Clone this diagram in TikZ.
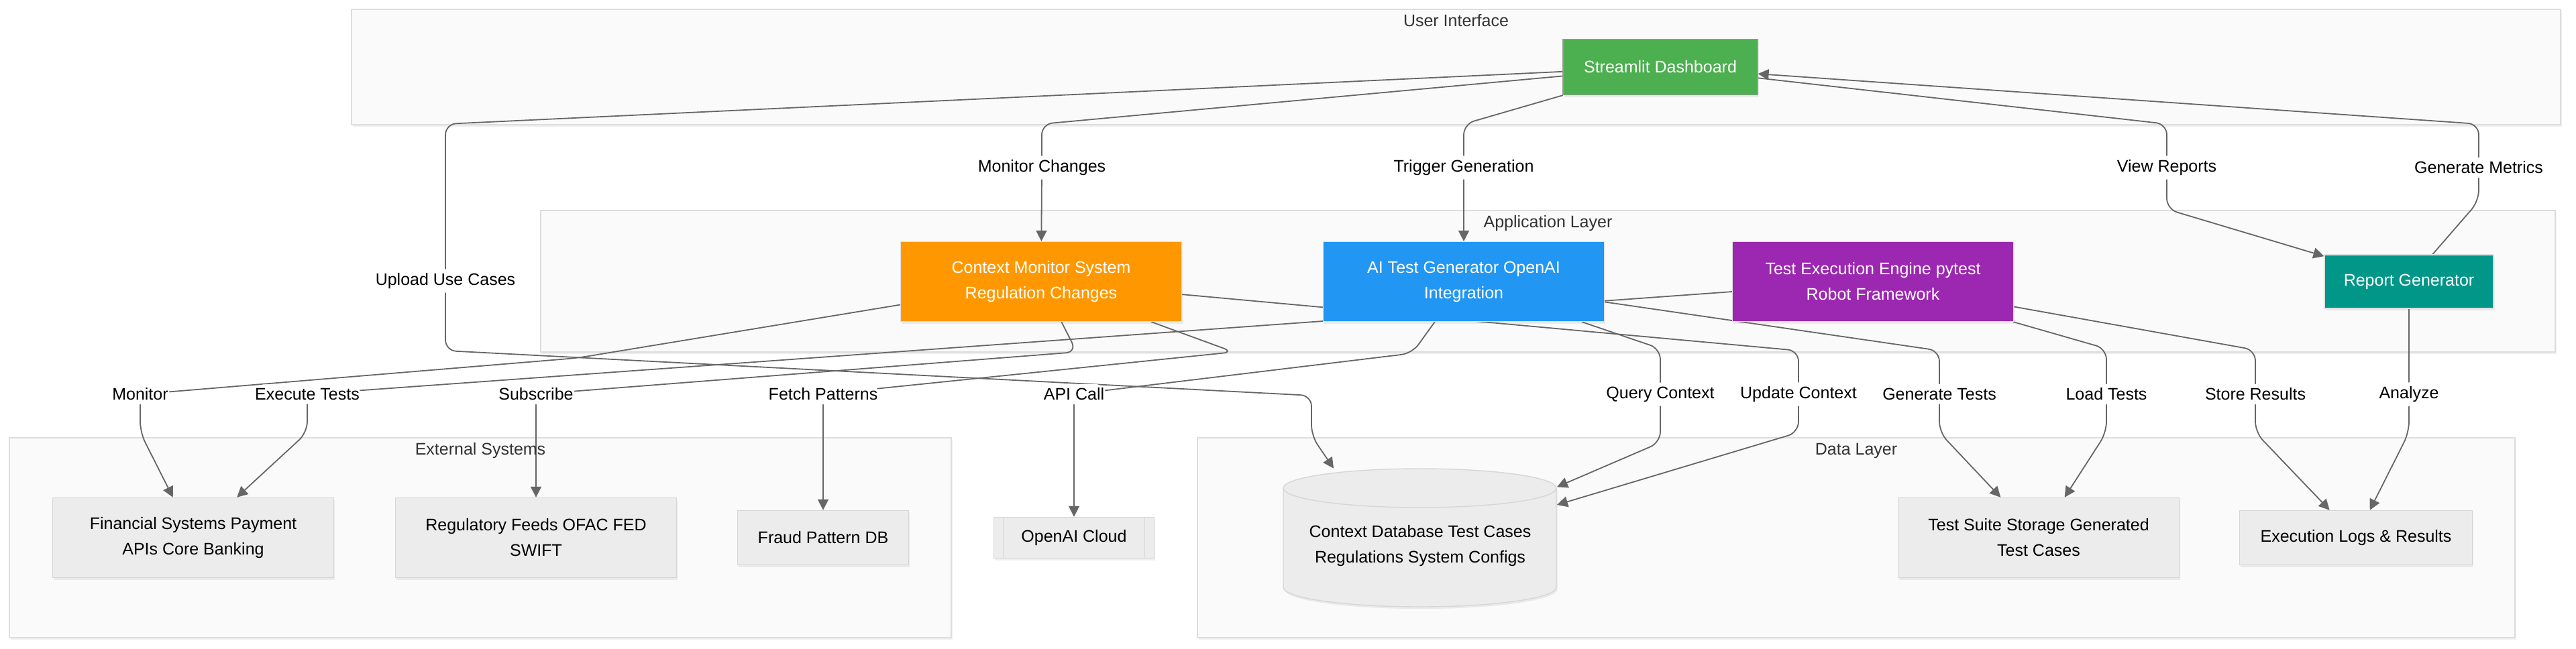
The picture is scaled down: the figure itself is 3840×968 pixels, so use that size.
\documentclass[tikz,border=0pt]{standalone}
\usepackage{fontspec}
\setmainfont{Liberation Sans}
\usepackage{xcolor}
\usepackage{tikz}
\usetikzlibrary{positioning, arrows.meta, shadows}
\definecolor{edgegray}{HTML}{666666}
\definecolor{clusterfill}{HTML}{FAFAFA}
\definecolor{clusterline}{HTML}{DDDDDD}
\definecolor{boxfill}{HTML}{ECECEC}
\definecolor{boxline}{HTML}{D6D6D6}
\definecolor{dashgreen}{HTML}{4CAF50}
\definecolor{monorange}{HTML}{FF9800}
\definecolor{genblue}{HTML}{2196F3}
\definecolor{execpurple}{HTML}{9C27B0}
\definecolor{reportteal}{HTML}{009688}
\newcommand{\diafont}{\fontsize{12.5}{19}\selectfont}
\pgfdeclarelayer{bg}
\pgfdeclarelayer{edges}
\pgfsetlayers{bg,edges,main}
\tikzset{
    softshadow/.style={drop shadow={shadow xshift=0.8pt, shadow yshift=-1.6pt, opacity=0.13}},
    cluster/.style={rectangle, draw=clusterline, line width=0.7pt, fill=clusterfill, softshadow},
    clustertitle/.style={inner sep=0pt, font=\diafont, text=black!80, text height=9pt, text depth=2.5pt},
    core/.style={rectangle, fill=#1, draw=black!12, line width=0.6pt, text=white, align=center, font=\diafont, softshadow},
    store/.style={rectangle, fill=boxfill, draw=boxline, line width=0.7pt, align=center, font=\diafont, softshadow},
    wide/.style={minimum width=209.5pt, minimum height=59.5pt},
    short/.style={minimum height=40.5pt},
    subproc/.style={store, minimum width=119.5pt, minimum height=30.5pt,
        path picture={\draw[boxline, line width=0.7pt] ([xshift=7pt]path picture bounding box.north west) -- ([xshift=7pt]path picture bounding box.south west) ([xshift=-7pt]path picture bounding box.north east) -- ([xshift=-7pt]path picture bounding box.south east);}},
    dbshape/.style={fill=boxfill, draw=boxline, line width=0.7pt, softshadow},
    dbtext/.style={rectangle, align=center, font=\diafont, minimum width=203.5pt, minimum height=91pt},
    elabel/.style={fill=white, inner xsep=1pt, inner ysep=3pt, font=\diafont},
    conn/.style={draw=edgegray, line width=0.9pt, rounded corners=8pt, -{Triangle[length=8pt, width=8pt]}}
}

\begin{document}
\begin{tikzpicture}[x=0.5pt, y=-0.5pt]
        \useasboundingbox (0,0) rectangle (3840,968);

        % Layers
        \begin{pgfonlayer}{bg}
            \node[cluster, minimum width=1646.5pt, minimum height=86pt] (ui) at (2170.5,100) {};
            \node[cluster, minimum width=1501.5pt, minimum height=105.5pt] (app) at (2307.5,419.5) {};
            \node[cluster, minimum width=702pt, minimum height=149pt] (ext) at (716,802) {};
            \node[cluster, minimum width=982pt, minimum height=149pt] (datal) at (2767,802) {};
        \end{pgfonlayer}
        \node[clustertitle, below=4pt of ui.north] {User Interface};
        \node[clustertitle, below=4pt of app.north] {Application Layer};
        \node[clustertitle, below=4pt of ext.north] {External Systems};
        \node[clustertitle, below=4pt of datal.north] {Data Layer};

        % Components
        \node[core=dashgreen, draw=black!40, minimum width=145pt, minimum height=41.5pt] (dash) at (2475,100) {Streamlit Dashboard};
        \node[core=monorange, wide] (monitor) at (1552,420) {Context Monitor System\\Regulation Changes};
        \node[core=genblue, wide] (aigen) at (2182,420) {AI Test Generator OpenAI\\Integration};
        \node[core=execpurple, wide] (engine) at (2792,420) {Test Execution Engine pytest\\Robot Framework};
        \node[core=reportteal, minimum width=126pt, minimum height=40pt] (report) at (3591,420) {Report Generator};

        \node[store, wide] (fin) at (288,802) {Financial Systems Payment\\APIs Core Banking};
        \node[store, wide] (regfeed) at (799,802) {Regulatory Feeds OFAC FED\\SWIFT};
        \node[store, short, minimum width=127.5pt] (fraud) at (1227,802) {Fraud Pattern DB};
        \node[subproc] (openai) at (1601,802) {OpenAI Cloud};

        \path[dbshape] (1913,728) -- (1913,876) arc[start angle=180, end angle=0, x radius=203.5, y radius=29]
            -- (2320,728) arc[start angle=0, end angle=-180, x radius=203.5, y radius=29] -- cycle;
        \draw[boxline, line width=0.7pt] (1913,728) arc[start angle=180, end angle=0, x radius=203.5, y radius=29];
        \node[dbtext] (ctxdb) at (2117,814) {Context Database Test Cases\\Regulations System Configs};
        \node[store, wide] (suite) at (3039,802) {Test Suite Storage Generated\\Test Cases};
        \node[store, short, minimum width=173.5pt] (logs) at (3512,802) {Execution Logs \& Results};

        % Connectors
        \begin{pgfonlayer}{edges}
            \draw[conn] (dash) -- (1553,185) -- (1553,250) node[elabel] {Monitor Changes} -- (monitor);
            \draw[conn] (dash) -- (2182,185) -- (2182,250) node[elabel] {Trigger Generation} -- (aigen);
            \draw[conn] (dash) -- (664,185) -- (664,419) node[elabel] {Upload Use Cases} -- (664,523) -- (1955,590) -- (1955,650) -- ([xshift=-64.5pt, yshift=12pt]ctxdb.north);
            \draw[conn] (dash) -- (3230,185) -- (3230,250) node[elabel] {View Reports} -- (3230,312) -- (report);
            \draw[conn] (report) -- (3695,300) -- (3695,250) node[elabel] {Generate Metrics} -- (3695,185) -- (dash);

            \draw[conn] (monitor) -- (860,534) -- (209,588) node[elabel] {Monitor} -- (209,645) -- (fin);
            \draw[conn] (engine) -- (458,588) node[elabel] {Execute Tests} -- (458,645) -- (fin);
            \draw[conn] (monitor) -- (1605,525) -- (799,588) node[elabel] {Subscribe} -- (regfeed);
            \draw[conn] (monitor) -- (1839,525) -- (1227,588) node[elabel] {Fetch Patterns} -- (fraud);
            \draw[conn] (aigen) -- (2105,527) -- (1601,588) node[elabel] {API Call} -- (openai);
            \draw[conn] (aigen) -- (2475,520) -- (2475,588) node[elabel] {Query Context} -- (2475,660) -- (ctxdb);
            \draw[conn] (monitor) -- (2681,523) -- (2681,588) node[elabel] {Update Context} -- (2681,645) -- (ctxdb);
            \draw[conn] (aigen) -- (2891,523) -- (2891,588) node[elabel] {Generate Tests} -- (2891,645) -- (suite);
            \draw[conn] (engine) -- (3140,520) -- (3140,588) node[elabel] {Load Tests} -- (3140,645) -- (suite);
            \draw[conn] (engine) -- (3362,522) -- (3362,588) node[elabel] {Store Results} -- (3362,645) -- (logs);
            \draw[conn] (report) -- (3591,588) node[elabel] {Analyze} -- (3591,645) -- (logs);
        \end{pgfonlayer}
    \end{tikzpicture}
\end{document}
